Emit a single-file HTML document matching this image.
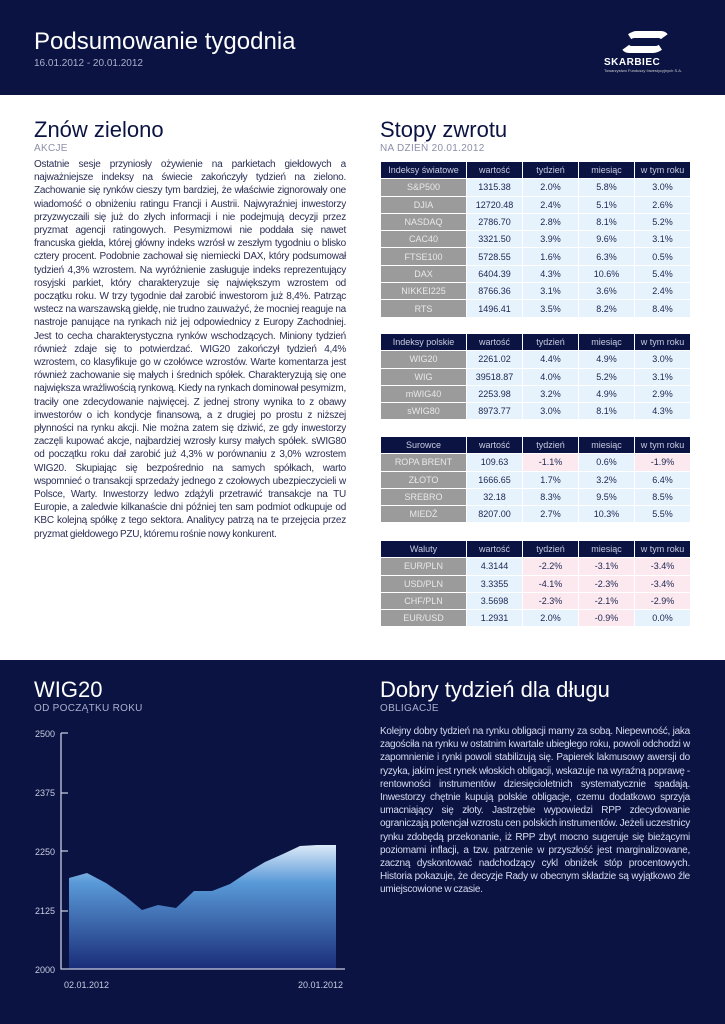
<!DOCTYPE html>
<html><head><meta charset="utf-8">
<style>
*{margin:0;padding:0;box-sizing:border-box}
body{width:725px;height:1024px;position:relative;background:#fff;font-family:"Liberation Sans",sans-serif;overflow:hidden}
.navy{background:#0b1343;position:absolute;left:0;width:725px}
.abs{position:absolute}
.sub{font-size:10px;color:#8a8fa8;letter-spacing:0.3px}
table{position:absolute;left:380px;border-collapse:separate;border-spacing:1px 1px;font-size:9px;color:#1a2550}
td{height:16.3px;text-align:center;padding:0}
tr.h td{background:#0b1343;color:#c8cce0}
td.l{background:#9b9b9b;color:#e8e8e8;width:85px}
td.v{background:#e6f3fd;width:55px}
td.n{background:#fce8ef}
.txt{font-size:10px;line-height:13.2px;color:#2a2f55;text-align:justify;letter-spacing:-0.25px;word-spacing:-0.5px}
</style></head><body>
<div class="navy" style="top:0;height:95px"></div>
<div class="abs" style="left:34px;top:28px;font-size:24px;color:#fff">Podsumowanie tygodnia</div>
<div class="abs" style="left:34px;top:58px;font-size:10px;color:#aab0cc">16.01.2012 - 20.01.2012</div>
<div class="abs" style="left:622px;top:31px;width:46px;height:22px;border:7px solid #fff;border-radius:12px;border-left-color:transparent;border-right-color:transparent;transform:skewX(-20deg)"></div>
<div class="abs" style="left:604px;top:57px;font-size:10px;font-weight:bold;color:#fff;letter-spacing:0.5px">SKARBIEC</div>
<div class="abs" style="left:604px;top:68px;font-size:4px;color:#ccc">Towarzystwo Funduszy Inwestycyjnych S.A.</div>

<div class="abs" style="left:34px;top:117px;font-size:22px;color:#0b1343">Znów zielono</div>
<div class="abs sub" style="left:34px;top:143px">AKCJE</div>
<div class="abs txt" style="left:34px;top:158px;width:312px">Ostatnie sesje przyniosły ożywienie na parkietach giełdowych a najważniejsze indeksy na świecie zakończyły tydzień na zielono. Zachowanie się rynków cieszy tym bardziej, że właściwie zignorowały one wiadomość o obniżeniu ratingu Francji i Austrii. Najwyraźniej inwestorzy przyzwyczaili się już do złych informacji i nie podejmują decyzji przez pryzmat agencji ratingowych. Pesymizmowi nie poddała się nawet francuska giełda, której główny indeks wzrósł w zeszłym tygodniu o blisko cztery procent. Podobnie zachował się niemiecki DAX, który podsumował tydzień 4,3% wzrostem. Na wyróżnienie zasługuje indeks reprezentujący rosyjski parkiet, który charakteryzuje się największym wzrostem od początku roku. W trzy tygodnie dał zarobić inwestorom już 8,4%. Patrząc wstecz na warszawską giełdę, nie trudno zauważyć, że mocniej reaguje na nastroje panujące na rynkach niż jej odpowiednicy z Europy Zachodniej. Jest to cecha charakterystyczna rynków wschodzących. Miniony tydzień również zdaje się to potwierdzać. WIG20 zakończył tydzień 4,4% wzrostem, co klasyfikuje go w czołówce wzrostów. Warte komentarza jest również zachowanie się małych i średnich spółek. Charakteryzują się one największa wrażliwością rynkową. Kiedy na rynkach dominował pesymizm, traciły one zdecydowanie najwięcej. Z jednej strony wynika to z obawy inwestorów o ich kondycje finansową, a z drugiej po prostu z niższej płynności na rynku akcji. Nie można zatem się dziwić, ze gdy inwestorzy zaczęli kupować akcje, najbardziej wzrosły kursy małych spółek. sWIG80 od początku roku dał zarobić już 4,3% w porównaniu z 3,0% wzrostem WIG20. Skupiając się bezpośrednio na samych spółkach, warto wspomnieć o transakcji sprzedaży jednego z czołowych ubezpieczycieli w Polsce, Warty. Inwestorzy ledwo zdążyli przetrawić transakcje na TU Europie, a zaledwie kilkanaście dni później ten sam podmiot odkupuje od KBC kolejną spółkę z tego sektora. Analitycy patrzą na te przejęcia przez pryzmat giełdowego PZU, któremu rośnie nowy konkurent.</div>

<div class="abs" style="left:380px;top:117px;font-size:22px;color:#0b1343">Stopy zwrotu</div>
<div class="abs sub" style="left:380px;top:143px">NA DZIEŃ 20.01.2012</div>

<table style="top:161px">
<tr class="h"><td>Indeksy światowe</td><td>wartość</td><td>tydzień</td><td>miesiąc</td><td>w tym roku</td></tr>
<tr><td class="l">S&amp;P500</td><td class="v">1315.38</td><td class="v">2.0%</td><td class="v">5.8%</td><td class="v">3.0%</td></tr>
<tr><td class="l">DJIA</td><td class="v">12720.48</td><td class="v">2.4%</td><td class="v">5.1%</td><td class="v">2.6%</td></tr>
<tr><td class="l">NASDAQ</td><td class="v">2786.70</td><td class="v">2.8%</td><td class="v">8.1%</td><td class="v">5.2%</td></tr>
<tr><td class="l">CAC40</td><td class="v">3321.50</td><td class="v">3.9%</td><td class="v">9.6%</td><td class="v">3.1%</td></tr>
<tr><td class="l">FTSE100</td><td class="v">5728.55</td><td class="v">1.6%</td><td class="v">6.3%</td><td class="v">0.5%</td></tr>
<tr><td class="l">DAX</td><td class="v">6404.39</td><td class="v">4.3%</td><td class="v">10.6%</td><td class="v">5.4%</td></tr>
<tr><td class="l">NIKKEI225</td><td class="v">8766.36</td><td class="v">3.1%</td><td class="v">3.6%</td><td class="v">2.4%</td></tr>
<tr><td class="l">RTS</td><td class="v">1496.41</td><td class="v">3.5%</td><td class="v">8.2%</td><td class="v">8.4%</td></tr>
</table>

<table style="top:333px">
<tr class="h"><td>Indeksy polskie</td><td>wartość</td><td>tydzień</td><td>miesiąc</td><td>w tym roku</td></tr>
<tr><td class="l">WIG20</td><td class="v">2261.02</td><td class="v">4.4%</td><td class="v">4.9%</td><td class="v">3.0%</td></tr>
<tr><td class="l">WIG</td><td class="v">39518.87</td><td class="v">4.0%</td><td class="v">5.2%</td><td class="v">3.1%</td></tr>
<tr><td class="l">mWIG40</td><td class="v">2253.98</td><td class="v">3.2%</td><td class="v">4.9%</td><td class="v">2.9%</td></tr>
<tr><td class="l">sWIG80</td><td class="v">8973.77</td><td class="v">3.0%</td><td class="v">8.1%</td><td class="v">4.3%</td></tr>
</table>

<table style="top:436px">
<tr class="h"><td>Surowce</td><td>wartość</td><td>tydzień</td><td>miesiąc</td><td>w tym roku</td></tr>
<tr><td class="l">ROPA BRENT</td><td class="v">109.63</td><td class="v n">-1.1%</td><td class="v">0.6%</td><td class="v n">-1.9%</td></tr>
<tr><td class="l">ZŁOTO</td><td class="v">1666.65</td><td class="v">1.7%</td><td class="v">3.2%</td><td class="v">6.4%</td></tr>
<tr><td class="l">SREBRO</td><td class="v">32.18</td><td class="v">8.3%</td><td class="v">9.5%</td><td class="v">8.5%</td></tr>
<tr><td class="l">MIEDŹ</td><td class="v">8207.00</td><td class="v">2.7%</td><td class="v">10.3%</td><td class="v">5.5%</td></tr>
</table>

<table style="top:540px">
<tr class="h"><td>Waluty</td><td>wartość</td><td>tydzień</td><td>miesiąc</td><td>w tym roku</td></tr>
<tr><td class="l">EUR/PLN</td><td class="v">4.3144</td><td class="v n">-2.2%</td><td class="v n">-3.1%</td><td class="v n">-3.4%</td></tr>
<tr><td class="l">USD/PLN</td><td class="v">3.3355</td><td class="v n">-4.1%</td><td class="v n">-2.3%</td><td class="v n">-3.4%</td></tr>
<tr><td class="l">CHF/PLN</td><td class="v">3.5698</td><td class="v n">-2.3%</td><td class="v n">-2.1%</td><td class="v n">-2.9%</td></tr>
<tr><td class="l">EUR/USD</td><td class="v">1.2931</td><td class="v">2.0%</td><td class="v n">-0.9%</td><td class="v">0.0%</td></tr>
</table>

<div class="navy" style="top:660px;height:364px"></div>
<div class="abs" style="left:34px;top:677px;font-size:22px;color:#fff">WIG20</div>
<div class="abs" style="left:34px;top:703px;font-size:10px;color:#aab0cc;letter-spacing:0.3px">OD POCZĄTKU ROKU</div>
<svg class="abs" style="left:0;top:660px" width="360" height="364" viewBox="0 660 360 364">
<defs><linearGradient id="g" x1="0" y1="845" x2="0" y2="969" gradientUnits="userSpaceOnUse">
<stop offset="0" stop-color="#dce9f8"/><stop offset="0.3" stop-color="#5a9ad8"/><stop offset="1" stop-color="#1a2d78"/></linearGradient></defs>
<path d="M69,878 L87,873 L106,883 L125,896 L142,910 L158,905 L176,908 L194,891 L212,891 L230,884 L248,872 L265,862 L283,854 L300,846 L317,845 L336,845 L336,969 L69,969 Z" fill="url(#g)"/>
<g stroke="#c8cce0" stroke-width="1.3" fill="none">
<path d="M61,733 V969 H345"/>
<path d="M61,733 H68 M61,793 H68 M61,851 H68 M61,911 H68"/>
</g>
<g font-size="9" fill="#c8cce0" font-family="Liberation Sans,sans-serif">
<text x="35" y="737">2500</text><text x="35" y="796">2375</text><text x="35" y="855">2250</text><text x="35" y="914">2125</text><text x="35" y="973">2000</text>
<text x="64" y="988">02.01.2012</text><text x="298" y="988">20.01.2012</text>
</g></svg>

<div class="abs" style="left:380px;top:677px;font-size:22px;color:#fff">Dobry tydzień dla długu</div>
<div class="abs" style="left:380px;top:703px;font-size:10px;color:#aab0cc;letter-spacing:0.3px">OBLIGACJE</div>
<div class="abs txt" style="left:380px;top:725px;width:310px;color:#d8dcf0">Kolejny dobry tydzień na rynku obligacji mamy za sobą. Niepewność, jaka zagościła na rynku w ostatnim kwartale ubiegłego roku, powoli odchodzi w zapomnienie i rynki powoli stabilizują się. Papierek lakmusowy awersji do ryzyka, jakim jest rynek włoskich obligacji, wskazuje na wyraźną poprawę - rentowności instrumentów dziesięcioletnich systematycznie spadają. Inwestorzy chętnie kupują polskie obligacje, czemu dodatkowo sprzyja umacniający się złoty. Jastrzębie wypowiedzi RPP zdecydowanie ograniczają potencjał wzrostu cen polskich instrumentów. Jeżeli uczestnicy rynku zdobędą przekonanie, iż RPP zbyt mocno sugeruje się bieżącymi poziomami inflacji, a tzw. patrzenie w przyszłość jest marginalizowane, zaczną dyskontować nadchodzący cykl obniżek stóp procentowych. Historia pokazuje, że decyzje Rady w obecnym składzie są wyjątkowo źle umiejscowione w czasie.</div>
</body></html>
